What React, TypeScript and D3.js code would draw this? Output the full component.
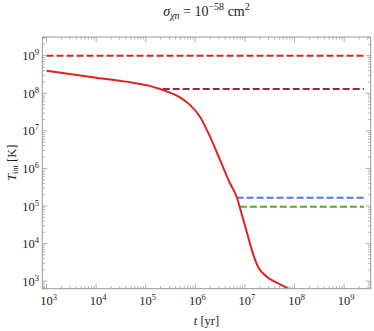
import React from "react";
import * as d3 from "d3";

const curveT = [1e3, 1e4, 7.67e4, 1e5, 1.94e5, 3.09e5, 4.9e5, 7.8e5, 1.24e6, 1.98e6, 3.15e6, 5.0e6, 6.84e6, 7.94e6, 1.09e7, 1.48e7, 1.86e7, 2.75e7, 4.37e7, 7.5e7];
const curveV = [4.0e8, 2.6e8, 1.77e8, 1.66e8, 1.3e8, 1.04e8, 7.8e7, 4.9e7, 2.38e7, 7.0e6, 1.68e6, 4.04e5, 1.74e5, 8.9e4, 2.04e4, 5.0e3, 2.34e3, 1.32e3, 9.1e2, 6.4e2];

const levelNames = ["red", "plum", "blue", "green"];
const levelValues = [1e9, 1.3e8, 1.67e5, 9.6e4];
const levelStarts = [1e3, 2.2e5, 6.8e6, 7.9e6];
const levelEnd = 2.5e9;
const levelColors = ["#e0241c", "#8e2a55", "#4a78ee", "#5aa823"];

const xTickExps = [3, 4, 5, 6, 7, 8, 9];
const yTickExps = [3, 4, 5, 6, 7, 8, 9];

const W = 374, H = 331;
const L = 42.3, R = 370.7, T = 37, B = 288.7;

export default function App() {
  const x = d3.scaleLog().domain([Math.pow(10, 2.915), Math.pow(10, 9.536)]).range([L, R]);
  const y = d3.scaleLog().domain([Math.pow(10, 2.80), Math.pow(10, 9.497)]).range([B, T]);

  const line = d3.line<[number, number]>().x(d => x(d[0])).y(d => y(d[1])).curve(d3.curveMonotoneX);
  const pts: [number, number][] = curveT.map((t, i) => [t, curveV[i]]);

  const frame = "#999";
  const minorX: number[] = [];
  for (let e = 2; e <= 9; e++) for (let m = 1; m <= 9; m++) {
    const v = m * Math.pow(10, e);
    if (v >= x.domain()[0] && v <= x.domain()[1]) minorX.push(v);
  }
  const minorY: number[] = [];
  for (let e = 2; e <= 9; e++) for (let m = 1; m <= 9; m++) {
    const v = m * Math.pow(10, e);
    if (v >= y.domain()[0] && v <= y.domain()[1]) minorY.push(v);
  }
  const font = "Liberation Serif, Times New Roman, serif";
  const cx = (L + R) / 2;
  const cy = (T + B) / 2;

  return (
    <svg width={W} height={H} style={{ position: "absolute", left: 0, top: 0, background: "#fff", fontFamily: font }}>
      <defs>
        <clipPath id="plot"><rect x={L} y={T} width={R - L} height={B - T} /></clipPath>
      </defs>
      <text x={cx} y={16} textAnchor="middle" fontSize={14} fill="#222" style={{ fontFamily: font }}>
        <tspan fontStyle="italic">σ</tspan>
        <tspan fontStyle="italic" fontSize={10} dy={3}>χn</tspan>
        <tspan dy={-3}> = 10</tspan>
        <tspan fontSize={10} dy={-6}>−58</tspan>
        <tspan dy={6}> cm</tspan>
        <tspan fontSize={10} dy={-6}>2</tspan>
      </text>

      <g clipPath="url(#plot)">
        {levelValues.map((v, i) => (
          <line key={levelNames[i]} x1={x(levelStarts[i])} x2={x(levelEnd)} y1={y(v)} y2={y(v)}
            stroke={levelColors[i]} strokeWidth={2} strokeDasharray="7,3" />
        ))}
        <path d={line(pts) || ""} fill="none" stroke="#e0241c" strokeWidth={2} />
      </g>

      <rect x={L} y={T} width={R - L} height={B - T} fill="none" stroke={frame} strokeWidth={1} />
      {minorX.map((v, i) => {
        const major = Math.abs(Math.log10(v) - Math.round(Math.log10(v))) < 1e-9;
        const len = major ? 5 : 2.5;
        return (
          <g key={"mx" + i} stroke={frame} strokeWidth={0.8}>
            <line x1={x(v)} x2={x(v)} y1={B} y2={B - len} />
            <line x1={x(v)} x2={x(v)} y1={T} y2={T + len} />
          </g>
        );
      })}
      {minorY.map((v, i) => {
        const major = Math.abs(Math.log10(v) - Math.round(Math.log10(v))) < 1e-9;
        const len = major ? 5 : 2.5;
        return (
          <g key={"my" + i} stroke={frame} strokeWidth={0.8}>
            <line x1={L} x2={L + len} y1={y(v)} y2={y(v)} />
            <line x1={R} x2={R - len} y1={y(v)} y2={y(v)} />
          </g>
        );
      })}
      {xTickExps.map(e => (
        <text key={"xl" + e} x={x(Math.pow(10, e)) + 2} y={305} textAnchor="middle" fontSize={12.5} fill="#222" style={{ fontFamily: font }}>
          10<tspan fontSize={8.5} dy={-5}>{e}</tspan>
        </text>
      ))}
      {yTickExps.map(e => (
        <text key={"yl" + e} x={39} y={y(Math.pow(10, e)) + 4.5} textAnchor="end" fontSize={12.5} fill="#222" style={{ fontFamily: font }}>
          10<tspan fontSize={8.5} dy={-5}>{e}</tspan>
        </text>
      ))}
      <text x={cx} y={325} textAnchor="middle" fontSize={12.5} fill="#222" style={{ fontFamily: font }}>
        <tspan fontStyle="italic">t</tspan> [yr]
      </text>
      <text transform={`translate(16,${cy}) rotate(-90)`} textAnchor="middle" fontSize={12.5} fill="#222" style={{ fontFamily: font }}>
        <tspan fontStyle="italic">T</tspan>
        <tspan fontSize={8.5} dy={2}>int</tspan>
        <tspan dy={-2}> [K]</tspan>
      </text>
    </svg>
  );
}
